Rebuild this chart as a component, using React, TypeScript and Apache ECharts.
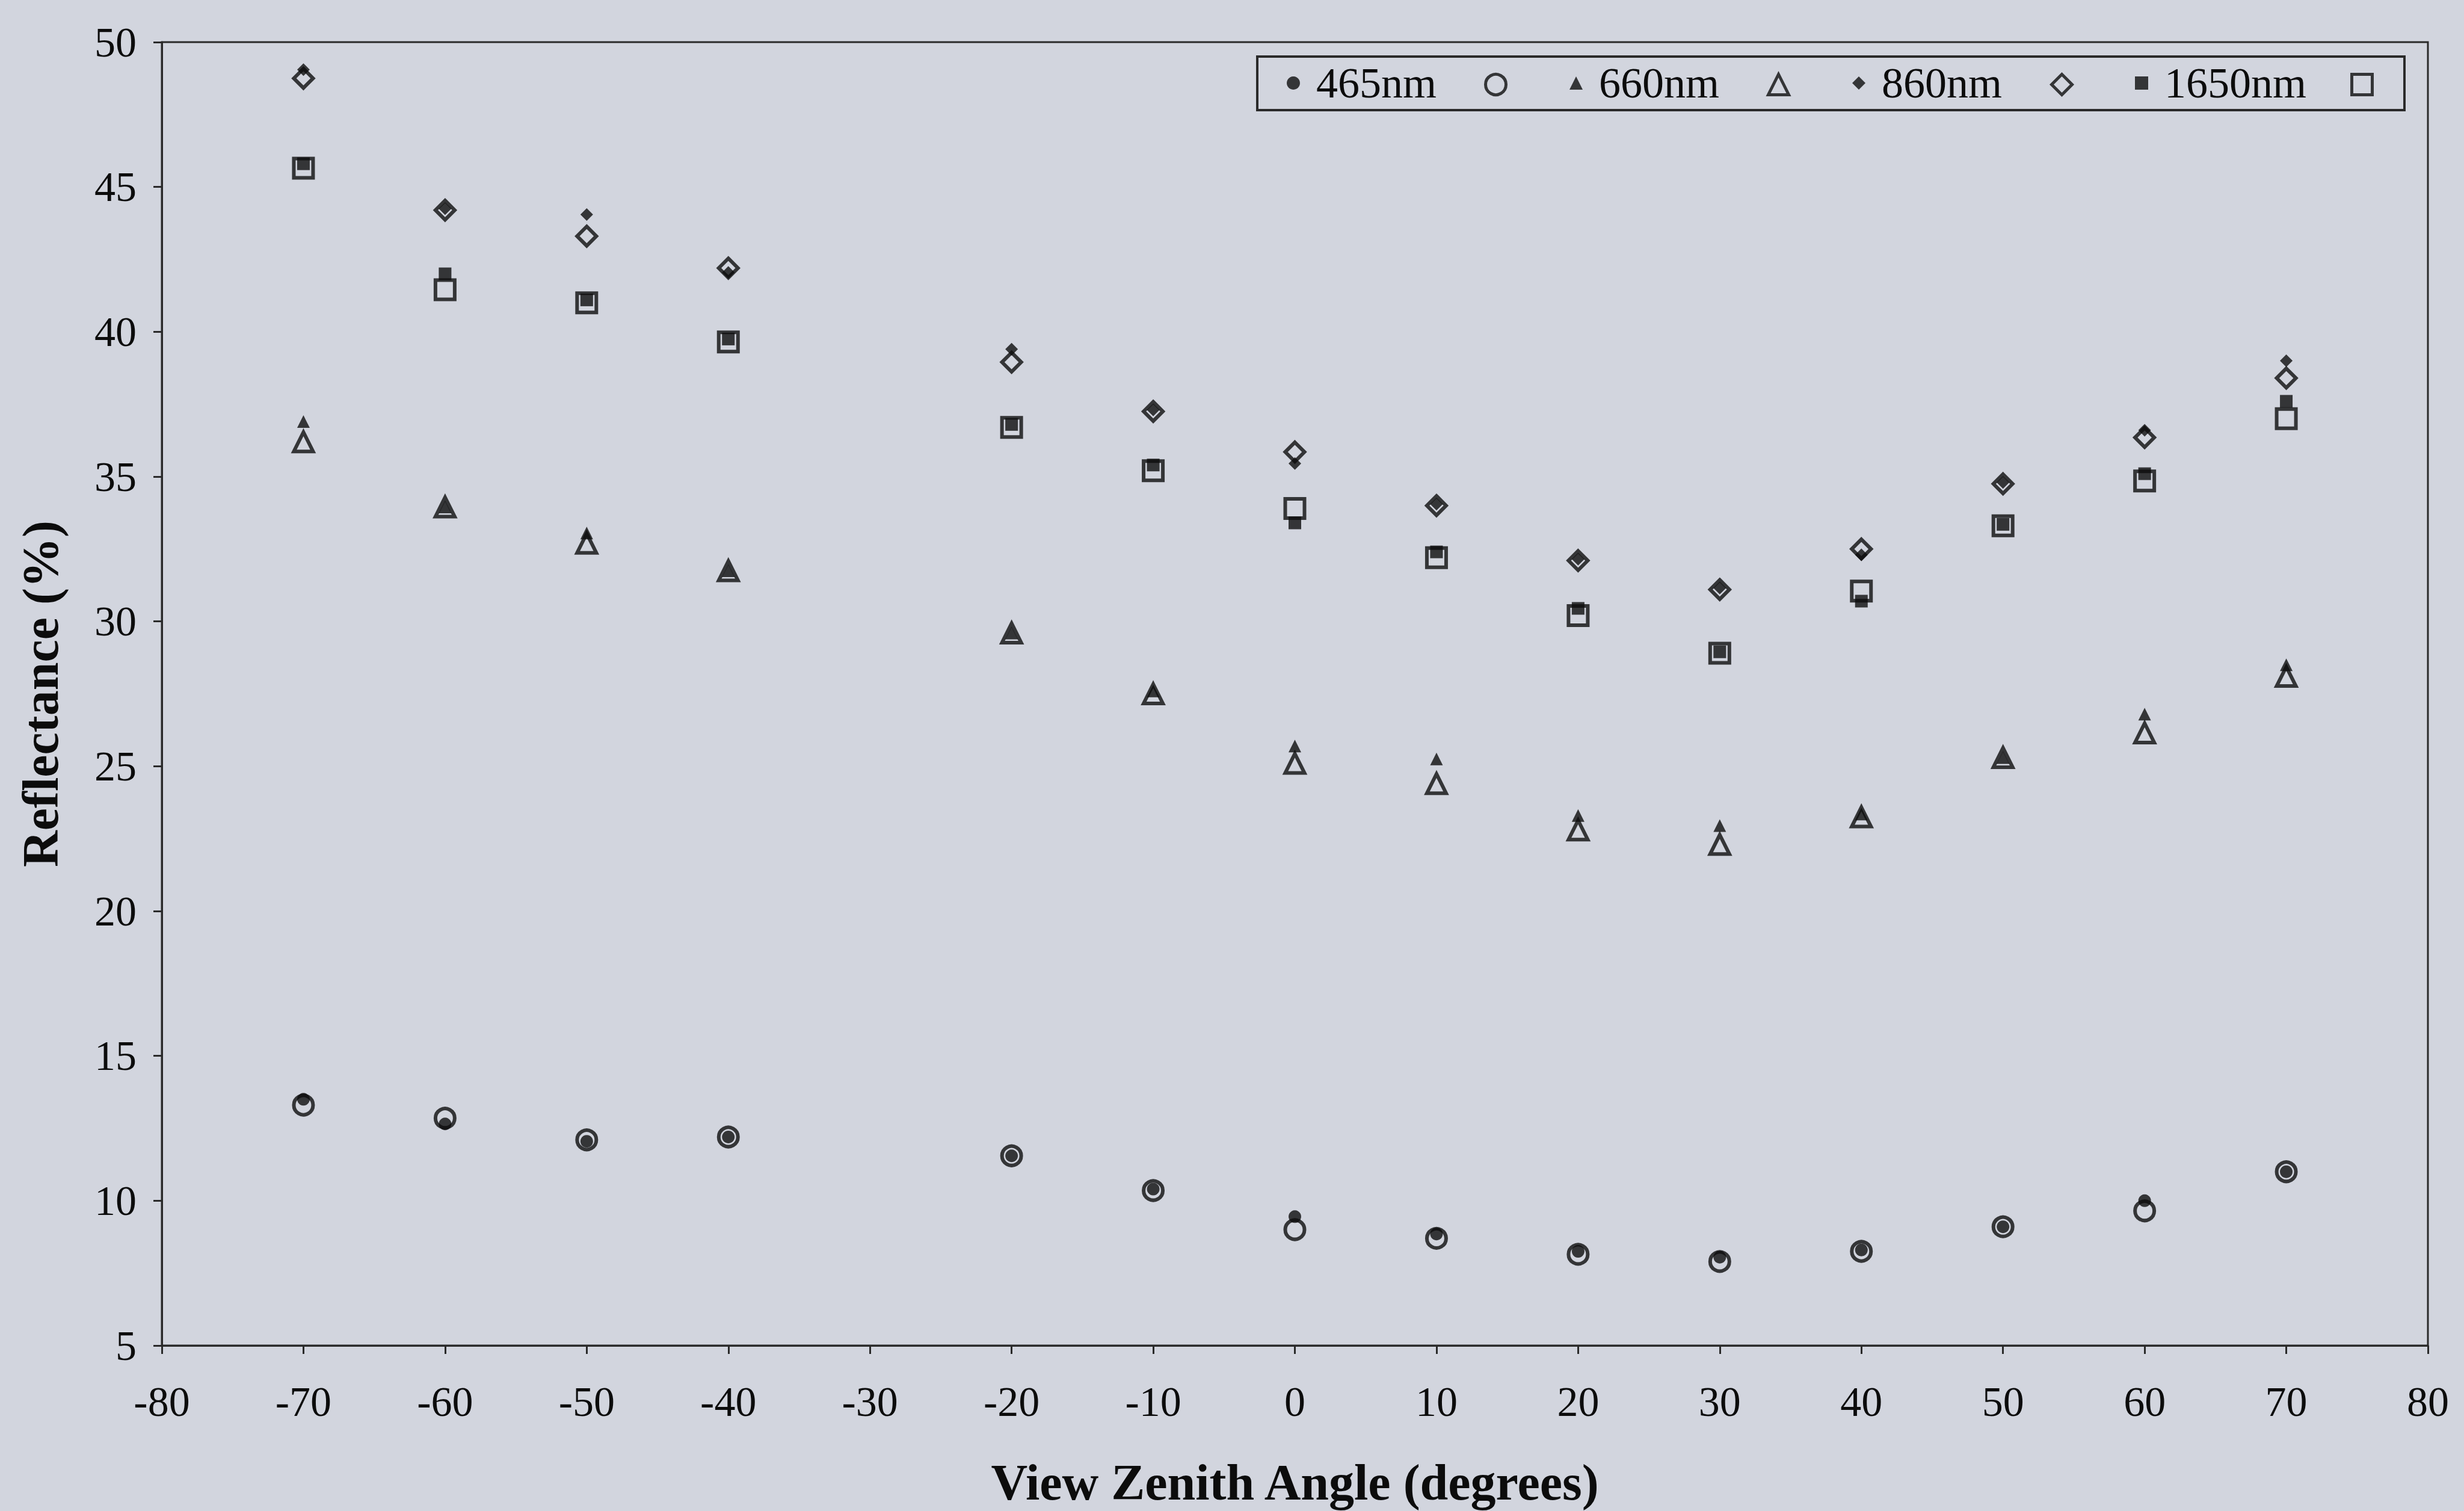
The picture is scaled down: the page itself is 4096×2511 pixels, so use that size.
import React, { useEffect, useRef } from "react";
import * as echarts from "echarts";

// View zenith angles (degrees)
const angles = [-70, -60, -50, -40, -20, -10, 0, 10, 20, 30, 40, 50, 60, 70];

// Reflectance (%) per band: filled markers and open markers
const b465Filled = [13.5, 12.65, 12.05, 12.2, 11.55, 10.4, 9.45, 8.85, 8.25, 8.05, 8.3, 9.1, 10.0, 11.0];
const b465Open = [13.3, 12.85, 12.1, 12.2, 11.55, 10.35, 9.0, 8.7, 8.15, 7.9, 8.25, 9.1, 9.65, 11.0];
const b660Filled = [36.9, 33.95, 33.05, 31.75, 29.6, 27.6, 25.7, 25.25, 23.3, 22.95, 23.35, 25.3, 26.8, 28.5];
const b660Open = [36.2, 33.95, 32.7, 31.75, 29.6, 27.5, 25.1, 24.4, 22.8, 22.3, 23.25, 25.3, 26.15, 28.1];
const b860Filled = [49.05, 44.25, 44.05, 42.05, 39.4, 37.3, 35.45, 34.05, 32.15, 31.15, 32.3, 34.8, 36.6, 39.0];
const b860Open = [48.75, 44.2, 43.3, 42.2, 38.95, 37.25, 35.85, 34.0, 32.1, 31.1, 32.5, 34.75, 36.35, 38.4];
const b1650Filled = [45.8, 42.0, 41.1, 39.75, 36.8, 35.4, 33.4, 32.4, 30.45, 28.95, 30.7, 33.35, 35.1, 37.6];
const b1650Open = [45.65, 41.45, 41.0, 39.65, 36.7, 35.2, 33.9, 32.2, 30.2, 28.9, 31.05, 33.3, 34.85, 37.0];

const bandNames = ["465nm", "660nm", "860nm", "1650nm"];
const bandSymbols = ["circle", "triangle", "diamond", "rect"];
const filledValues = [b465Filled, b660Filled, b860Filled, b1650Filled];
const openValues = [b465Open, b660Open, b860Open, b1650Open];

// Axis ranges
const xMin = -80;
const xMax = 80;
const xStep = 10;
const yMin = 5;
const yMax = 50;
const yStep = 5;

const xTitle = "View Zenith Angle (degrees)";
const yTitle = "Reflectance (%)";

// Layout / style
const FONT = "'Liberation Serif', 'Times New Roman', serif";
const INK = "#0c0c0c";
const AXIS = "#2a2a2a";
const PAPER = "#d2d5de";
const OPEN_SIZE = 32;
const OPEN_BORDER = 6;
const FILLED_SIZE = 21;
const LEGEND_FONT = 72;

// legend layout: centre x of the filled / open icons, text row centre y
const legendFilledX = [2150, 2620, 3090, 3560];
const legendOpenX = [2484, 2954, 3425, 3924];
const legendCenterY = 138;
const legendBox = { x: 2090, y: 94, w: 1907, h: 89 };

function openName(i: number) {
  return bandNames[i] + " (open)";
}

function buildOption() {
  const series: any[] = [];
  bandNames.forEach((name, i) => {
    series.push({
      type: "scatter",
      name: openName(i),
      symbol: bandSymbols[i],
      symbolSize: OPEN_SIZE,
      itemStyle: { color: "rgba(0,0,0,0)", borderColor: INK, borderWidth: OPEN_BORDER },
      emphasis: { disabled: true },
      z: 2,
      data: angles.map((a, k) => [a, openValues[i][k]]),
    });
  });
  bandNames.forEach((name, i) => {
    series.push({
      type: "scatter",
      name,
      symbol: bandSymbols[i],
      symbolSize: FILLED_SIZE,
      itemStyle: { color: INK, borderWidth: 0 },
      emphasis: { disabled: true },
      z: 3,
      data: angles.map((a, k) => [a, filledValues[i][k]]),
    });
  });

  const legends: any[] = [];
  bandNames.forEach((name, i) => {
    const fs = 22;
    // the text row (lineHeight) is taller than the icon, so the block's top is the text's top
    legends.push({
      show: true,
      selectedMode: false,
      padding: 0,
      left: legendFilledX[i] - fs / 2,
      top: legendCenterY - LEGEND_FONT / 2,
      itemWidth: fs,
      itemHeight: fs,
      data: [{ name, icon: bandSymbols[i], itemStyle: { color: INK, borderWidth: 0 } }],
      textStyle: {
        fontFamily: FONT,
        fontSize: LEGEND_FONT,
        lineHeight: LEGEND_FONT,
        color: INK,
        padding: [0, 0, 0, 22],
      },
    });
    const os = 34;
    legends.push({
      show: true,
      selectedMode: false,
      padding: 0,
      left: legendOpenX[i] - os / 2,
      top: legendCenterY - os / 2,
      itemWidth: os,
      itemHeight: os,
      formatter: () => "",
      data: [
        {
          name: openName(i),
          icon: bandSymbols[i],
          itemStyle: { color: "rgba(0,0,0,0)", borderColor: INK, borderWidth: 5 },
        },
      ],
      textStyle: { fontFamily: FONT, fontSize: LEGEND_FONT, color: INK },
    });
  });

  return {
    animation: false,
    backgroundColor: PAPER,
    textStyle: { fontFamily: FONT },
    grid: {
      left: 269,
      right: 60,
      top: 70,
      bottom: 275,
      show: true,
      borderColor: AXIS,
      borderWidth: 3,
      backgroundColor: "transparent",
    },
    legend: legends,
    graphic: [
      {
        type: "rect",
        shape: { x: legendBox.x, y: legendBox.y, width: legendBox.w, height: legendBox.h },
        style: { fill: "none", stroke: AXIS, lineWidth: 4 },
        z: 10,
      },
    ],
    xAxis: {
      type: "value",
      min: xMin,
      max: xMax,
      interval: xStep,
      splitLine: { show: false },
      axisLine: { show: true, onZero: false, lineStyle: { color: AXIS, width: 3 } },
      axisTick: { show: true, inside: false, length: 14, lineStyle: { color: AXIS, width: 3 } },
      axisLabel: { fontFamily: FONT, fontSize: 70, color: INK, margin: 58 },
      name: xTitle,
      nameLocation: "middle",
      nameGap: 185,
      nameTextStyle: { fontFamily: FONT, fontSize: 84, fontWeight: "bold", color: INK },
    },
    yAxis: {
      type: "value",
      min: yMin,
      max: yMax,
      interval: yStep,
      splitLine: { show: false },
      axisLine: { show: true, onZero: false, lineStyle: { color: AXIS, width: 3 } },
      axisTick: { show: true, inside: false, length: 14, lineStyle: { color: AXIS, width: 3 } },
      axisLabel: { fontFamily: FONT, fontSize: 70, color: INK, margin: 42 },
      name: yTitle,
      nameLocation: "middle",
      nameGap: 160,
      nameTextStyle: { fontFamily: FONT, fontSize: 84, fontWeight: "bold", color: INK },
    },
    series,
  };
}

export default function App() {
  const ref = useRef<HTMLDivElement>(null);
  useEffect(() => {
    document.body.style.margin = "0";
    document.body.style.background = PAPER;
    const chart = echarts.init(ref.current as HTMLDivElement, null, { renderer: "svg" });
    chart.setOption(buildOption() as any);
    return () => chart.dispose();
  }, []);
  return <div ref={ref} style={{ width: 4096, height: 2511 }} />;
}
